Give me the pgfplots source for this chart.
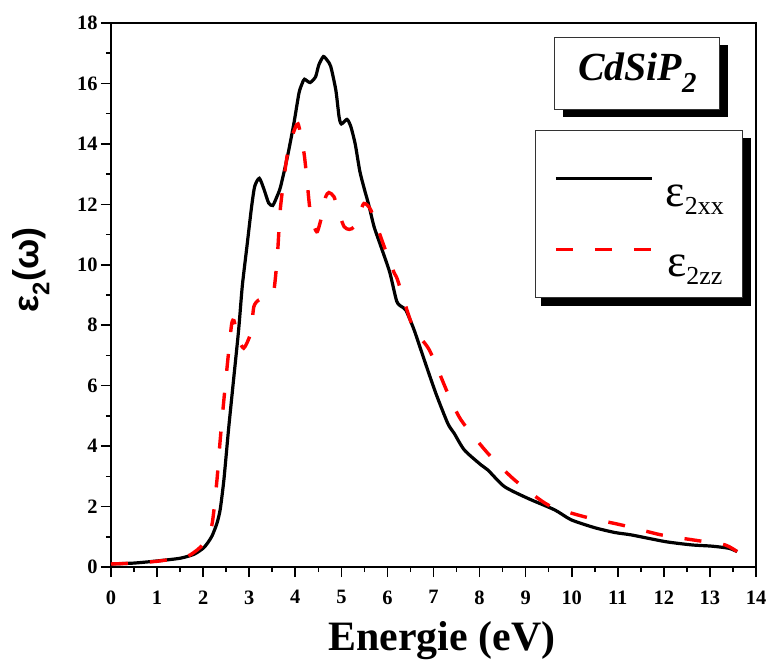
\documentclass[border=0pt]{standalone}
\usepackage{fontspec}
\setmainfont{Liberation Serif}
\newfontfamily\sansgreek{Liberation Sans}
\usepackage{pgfplots}
\usepackage{pgfplotstable}
\pgfplotsset{compat=1.18}
\usetikzlibrary{shadows}

\pgfplotstableread{
x y
0.00 0.10
0.50 0.13
1.00 0.20
1.50 0.29
1.80 0.42
2.00 0.62
2.10 0.80
2.20 1.05
2.30 1.45
2.37 1.90
2.45 2.88
2.55 4.53
2.66 6.19
2.77 7.84
2.85 9.30
2.95 10.60
3.05 11.90
3.12 12.60
3.22 12.86
3.32 12.50
3.42 12.05
3.51 11.96
3.60 12.25
3.68 12.58
3.83 13.58
3.97 14.68
4.08 15.68
4.15 16.00
4.20 16.14
4.32 16.03
4.44 16.22
4.51 16.61
4.61 16.89
4.70 16.75
4.77 16.56
4.88 15.78
4.95 14.90
5.00 14.66
5.12 14.81
5.20 14.60
5.30 14.00
5.40 13.10
5.50 12.50
5.60 11.95
5.71 11.26
5.86 10.60
6.05 9.75
6.20 8.80
6.30 8.62
6.40 8.50
6.58 7.84
6.80 6.85
7.05 5.75
7.31 4.75
7.45 4.42
7.67 3.87
8.03 3.38
8.18 3.21
8.54 2.66
9.05 2.27
9.63 1.89
9.99 1.56
10.50 1.30
10.94 1.14
11.30 1.06
12.03 0.84
12.61 0.73
13.04 0.69
13.41 0.62
13.59 0.51
}\xxdata

\pgfplotstableread{
x y
0.00 0.10
0.50 0.13
1.00 0.19
1.50 0.30
1.72 0.40
2.00 0.75
2.19 1.39
2.30 2.88
2.37 4.20
2.45 5.53
2.55 7.07
2.62 8.05
2.67 8.15
2.75 7.60
2.88 7.24
3.03 7.73
3.10 8.61
3.21 8.84
3.40 8.90
3.53 9.10
3.61 10.27
3.68 11.92
3.82 13.58
3.93 14.24
4.06 14.66
4.19 13.69
4.26 12.70
4.32 11.81
4.41 11.26
4.48 11.10
4.59 11.70
4.66 12.25
4.73 12.39
4.84 12.25
4.95 11.70
5.06 11.26
5.17 11.17
5.28 11.26
5.40 11.70
5.49 12.03
5.64 11.81
5.93 10.60
6.15 9.72
6.22 9.50
6.55 7.95
6.91 7.18
7.31 5.75
7.60 4.86
8.18 3.76
8.76 2.88
9.49 2.05
10.28 1.66
11.08 1.39
11.95 1.06
12.75 0.87
13.33 0.73
13.59 0.51
}\zzdata

\begin{document}
\begin{tikzpicture}
\useasboundingbox (-111bp,-97bp) rectangle (661bp,567bp);
\begin{axis}[
  at={(0,0)}, anchor=south west,
  scale only axis, width=645bp, height=544bp,
  xmin=0, xmax=14, ymin=0, ymax=18,
  xtick={0,1,...,14}, ytick={0,2,...,18},
  minor x tick num=1, minor y tick num=1,
  tick align=outside, xtick pos=bottom, ytick pos=left,
  major tick length=10bp, minor tick length=5bp,
  axis line style={line width=1.6bp},
  every tick/.style={black, line width=1.6bp},
  /pgf/number format/assume math mode=true,
  tick label style={font=\fontsize{20.5}{20.5}\selectfont\bfseries},
  xticklabel style={yshift=-10bp},
  xlabel={Energie (eV)},
  xlabel style={font=\fontsize{42}{42}\selectfont\bfseries, at={(rel axis cs:0.513,-0.1526)}, anchor=base},
  ylabel={\sansgreek\bfseries ε\raisebox{-0.3em}{\fontsize{24}{24}\selectfont 2}(ω)},
  ylabel style={font=\fontsize{36}{36}\selectfont, at={(rel axis cs:-0.124,0.546)}, anchor=center, rotate=0},
  legend image code/.code={\draw[#1] (0bp,0bp) -- (96bp,0bp);},
  legend style={at={(rel axis cs:0.98,0.803)}, anchor=north east,
    draw=black!80, line width=0.8bp, fill=white,
    inner xsep=19bp, inner ysep=19.5bp, column sep=12bp, row sep=13bp,
    nodes={inner sep=0pt}},
]
\addplot[black, line width=3.2bp, smooth, tension=0.4] table {\xxdata};
\addlegendentry{\rule[-16bp]{0pt}{72bp}{\fontsize{46}{46}\selectfont ε}\raisebox{-8bp}{\fontsize{26}{26}\selectfont 2xx}}
\addplot[red, line width=3.4bp, dash pattern=on 17bp off 22bp, smooth, tension=0.4] table {\zzdata};
\addlegendentry{\rule[-16bp]{0pt}{72bp}{\fontsize{46}{46}\selectfont ε}\raisebox{-8bp}{\fontsize{26}{26}\selectfont 2zz}}
\fill[black] (rel axis cs:0.6667,0.4798) rectangle (rel axis cs:0.9922,0.7886);
\node[draw=black!80, line width=0.8bp, fill=white, minimum width=165bp, minimum height=72bp,
  drop shadow={shadow xshift=8bp, shadow yshift=-8bp, opacity=1, fill=black}]
  at (rel axis cs:0.816,0.908)
  {\fontsize{40}{40}\selectfont\bfseries\itshape CdSiP\raisebox{-12bp}{\fontsize{29}{29}\selectfont 2}};
\end{axis}
\end{tikzpicture}
\end{document}
